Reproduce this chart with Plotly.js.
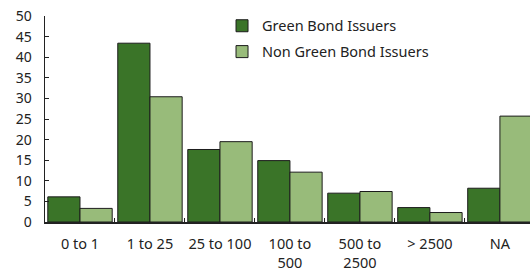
<!DOCTYPE html>
<html><head><meta charset="utf-8">
<script src="https://cdn.plot.ly/plotly-3.0.1.min.js"></script>
<style>html,body{margin:0;padding:0;background:#fff}#c{width:530px;height:272px}</style>
</head><body><div id="c"></div>
<script>
const categories = ["0 to 1", "1 to 25", "25 to 100", "100 to<br>500", "500 to<br>2500", "> 2500", "NA"];
const greenIssuers = [6.1, 43.4, 17.6, 14.9, 7.0, 3.5, 8.2];
const nonGreenIssuers = [3.3, 30.4, 19.5, 12.1, 7.4, 2.3, 25.7];
const yTicks = [0, 5, 10, 15, 20, 25, 30, 35, 40, 45, 50];

const fam = "Noto Sans, Open Sans, sans-serif";
const traces = [
  {type: "bar", name: "Green Bond Issuers", x: categories, y: greenIssuers, legendgroup: "a",
   marker: {color: "#3a7428", line: {color: "#1c1c1c", width: 1}}},
  {type: "bar", name: "Non Green Bond Issuers", x: categories, y: nonGreenIssuers, legendgroup: "b",
   marker: {color: "#98bb7a", line: {color: "#1c1c1c", width: 1}}}
];
const layout = {
  width: 530, height: 272,
  margin: {l: 45, r: 0, t: 16, b: 50},
  paper_bgcolor: "#fff", plot_bgcolor: "#fff",
  font: {family: fam, size: 13.5, color: "#222"},
  barmode: "group", bargap: 0.08, bargroupgap: 0,
  showlegend: true,
  legend: {x: 0.365, y: 1.03, xanchor: "left", yanchor: "top", bgcolor: "rgba(0,0,0,0)",
           font: {family: fam, size: 14.5, color: "#222"}, traceorder: "grouped", tracegroupgap: 4,
           itemwidth: 30},
  xaxis: {type: "category", range: [-0.5, 6.43], showline: true, linecolor: "#222", linewidth: 1.5,
          ticks: "inside", tickson: "boundaries", ticklen: 4, tickcolor: "#222", showgrid: false,
          zeroline: false, tickangle: 0, tickfont: {family: fam, size: 14.5, color: "#222"}, ticklabelstandoff: 8},
  yaxis: {range: [0, 50], tickvals: yTicks, showline: true, linecolor: "#222", linewidth: 1.5,
          ticks: "inside", ticklen: 4, tickcolor: "#222", showgrid: false, zeroline: false,
          tickfont: {family: fam, size: 14, color: "#222"}, ticklabelstandoff: 9}
};
Plotly.newPlot("c", traces, layout, {displayModeBar: false, staticPlot: true});
</script></body></html>
